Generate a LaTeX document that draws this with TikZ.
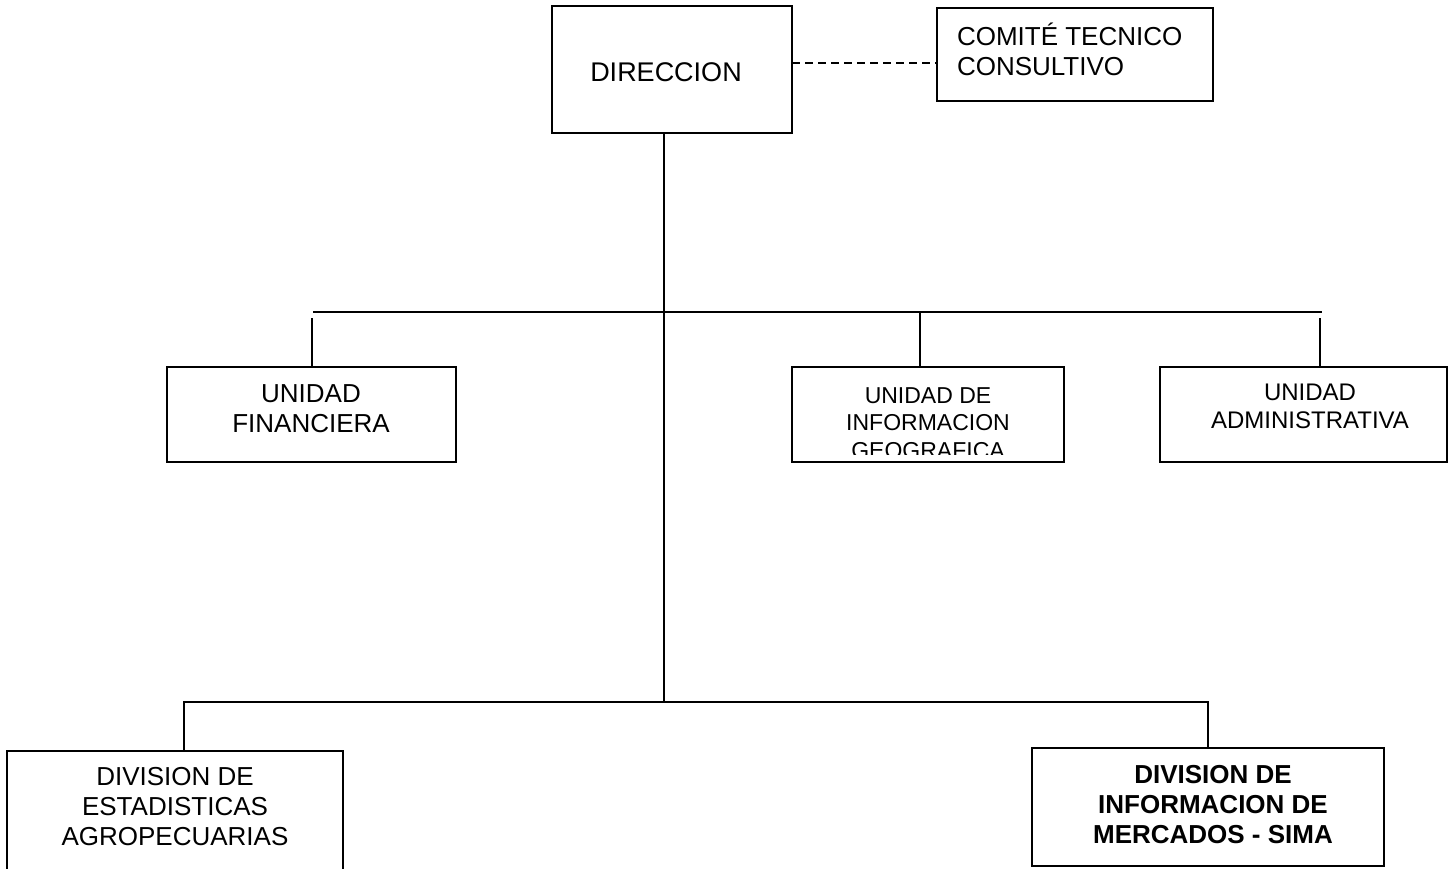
\documentclass[tikz,border=0pt]{standalone}
\usepackage{fontspec}
\setmainfont{Liberation Sans}
\begin{document}
\begin{tikzpicture}[x=1pt,y=-1pt,line width=1.9pt,
  box/.style={draw,rectangle,inner sep=0pt,outer sep=0pt},
  txt/.style={align=center,inner sep=0pt,outer sep=0pt},
  big/.style={font=\fontsize{26}{30}\selectfont},
  mid/.style={font=\fontsize{24}{28}\selectfont},
  small/.style={font=\fontsize{23}{27.5}\selectfont},
  link/.style={line width=1.9pt},
  dashlink/.style={line width=1.4pt,dash pattern=on 8pt off 5pt}]
\clip (0,0) rectangle (1449,868);
\fill[white] (0,0) rectangle (1449,868);
% boxes
\node[box,minimum width=240pt,minimum height=127pt] (dir) at (672,69.5) {};
\node[txt,font=\fontsize{27}{31}\selectfont] (dirtext) at (666,72) {DIRECCION};
\node[box,minimum width=276pt,minimum height=93pt] (com) at (1075,54.5) {};
\node[txt,big,align=left,anchor=west] (comtext) at (957,49) {COMITÉ TECNICO\\CONSULTIVO};
\node[box,minimum width=289pt,minimum height=95pt] (fin) at (311.5,414.5) {};
\node[txt,big] (fintext) at (311,408.5) {UNIDAD\\FINANCIERA};
\node[box,minimum width=272pt,minimum height=95pt] (geo) at (928,414.5) {};
\begin{scope}
\clip (792,367) rectangle (1064,454);
\node[txt,small] (geotext) at (928,423) {UNIDAD DE\\INFORMACION\\GEOGRAFICA};
\end{scope}
\node[box,minimum width=287pt,minimum height=95pt] (adm) at (1303.5,414.5) {};
\node[txt,mid] (admtext) at (1310,406.5) {UNIDAD\\ADMINISTRATIVA};
\node[box,minimum width=336pt,minimum height=160pt] (est) at (175,831) {};
\node[txt,big] (esttext) at (175,807) {DIVISION DE\\ESTADISTICAS\\AGROPECUARIAS};
\node[box,minimum width=352pt,minimum height=118pt] (sima) at (1208,807) {};
\node[txt,big,font=\fontsize{26}{30}\selectfont\bfseries] (simatext) at (1213,805) {DIVISION DE\\INFORMACION DE\\MERCADOS - SIMA};
% bus coordinates
\coordinate (top) at (664,133);
\coordinate (tbus) at (664,312);
\coordinate (bbus) at (664,702);
\coordinate (tl) at (313,312);
\coordinate (tr) at (1322,312);
\coordinate (bl) at (183,702);
\coordinate (br) at (1209,702);
% connectors
\draw[dashlink] (dir.east |- 0,63) -- (com.west |- 0,63);
\draw[link] (top) -- (tbus) -- (bbus);
\draw[link] (tl) -- (tr);
\draw[link] (312,318) -- (312,367);
\draw[link] (920,312) -- (920,367);
\draw[link] (1320,318) -- (1320,367);
\draw[link] (bl) -- (br);
\draw[link] (184,702) -- (est.north -| 184,0);
\draw[link] (1208,702) -- (sima.north -| 1208,0);
\end{tikzpicture}
\end{document}
